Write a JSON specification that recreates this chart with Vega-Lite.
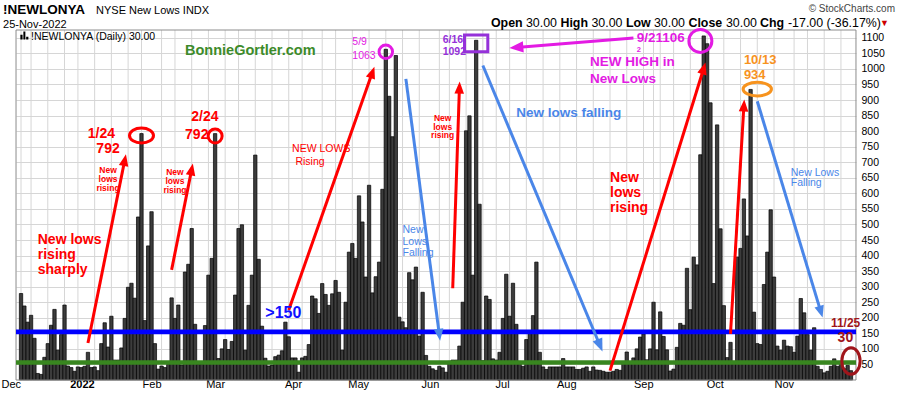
{
"$schema": "https://vega.github.io/schema/vega-lite/v6.json",
"width": 840,
"height": 350,
"autosize": {"type": "none"},
"padding": {"left": 16, "top": 30, "right": 44, "bottom": 16},
"background": "#ffffff",
"config": {"font": "Liberation Sans", "view": {"stroke": null}},
"datasets": {
"nl": [{"d":"2021-12-01","v":278},{"d":"2021-12-02","v":238},{"d":"2021-12-03","v":186},{"d":"2021-12-06","v":208},{"d":"2021-12-07","v":134},{"d":"2021-12-08","v":21},{"d":"2021-12-09","v":18},{"d":"2021-12-10","v":73},{"d":"2021-12-13","v":117},{"d":"2021-12-14","v":176},{"d":"2021-12-15","v":227},{"d":"2021-12-16","v":96},{"d":"2021-12-17","v":146},{"d":"2021-12-20","v":241},{"d":"2021-12-21","v":45},{"d":"2021-12-22","v":40},{"d":"2021-12-23","v":28},{"d":"2021-12-27","v":42},{"d":"2021-12-28","v":40},{"d":"2021-12-29","v":44},{"d":"2021-12-30","v":89},{"d":"2021-12-31","v":40},
{"d":"2022-01-03","v":42},{"d":"2022-01-04","v":30},{"d":"2022-01-05","v":117},{"d":"2022-01-06","v":184},{"d":"2022-01-07","v":106},{"d":"2022-01-10","v":205},{"d":"2022-01-11","v":64},{"d":"2022-01-12","v":64},{"d":"2022-01-13","v":103},{"d":"2022-01-14","v":198},{"d":"2022-01-18","v":298},{"d":"2022-01-19","v":311},{"d":"2022-01-20","v":263},{"d":"2022-01-21","v":524},{"d":"2022-01-24","v":792},{"d":"2022-01-25","v":191},{"d":"2022-01-26","v":431},{"d":"2022-01-27","v":541},{"d":"2022-01-28","v":117},{"d":"2022-01-31","v":35},
{"d":"2022-02-01","v":45},{"d":"2022-02-02","v":40},{"d":"2022-02-03","v":50},{"d":"2022-02-04","v":264},{"d":"2022-02-07","v":198},{"d":"2022-02-08","v":241},{"d":"2022-02-09","v":48},{"d":"2022-02-10","v":347},{"d":"2022-02-11","v":372},{"d":"2022-02-14","v":487},{"d":"2022-02-15","v":179},{"d":"2022-02-16","v":50},{"d":"2022-02-17","v":52},{"d":"2022-02-18","v":175},{"d":"2022-02-22","v":337},{"d":"2022-02-23","v":391},{"d":"2022-02-24","v":792},{"d":"2022-02-25","v":69},{"d":"2022-02-28","v":100},
{"d":"2022-03-01","v":130},{"d":"2022-03-02","v":98},{"d":"2022-03-03","v":124},{"d":"2022-03-04","v":273},{"d":"2022-03-07","v":487},{"d":"2022-03-08","v":499},{"d":"2022-03-09","v":96},{"d":"2022-03-10","v":240},{"d":"2022-03-11","v":337},{"d":"2022-03-14","v":723},{"d":"2022-03-15","v":388},{"d":"2022-03-16","v":173},{"d":"2022-03-17","v":70},{"d":"2022-03-18","v":45},{"d":"2022-03-21","v":48},{"d":"2022-03-22","v":75},{"d":"2022-03-23","v":80},{"d":"2022-03-24","v":94},{"d":"2022-03-25","v":186},{"d":"2022-03-28","v":139},{"d":"2022-03-29","v":71},{"d":"2022-03-30","v":71},{"d":"2022-03-31","v":25},
{"d":"2022-04-01","v":71},{"d":"2022-04-04","v":76},{"d":"2022-04-05","v":114},{"d":"2022-04-06","v":270},{"d":"2022-04-07","v":261},{"d":"2022-04-08","v":214},{"d":"2022-04-11","v":310},{"d":"2022-04-12","v":275},{"d":"2022-04-13","v":240},{"d":"2022-04-14","v":277},{"d":"2022-04-18","v":320},{"d":"2022-04-19","v":282},{"d":"2022-04-20","v":96},{"d":"2022-04-21","v":250},{"d":"2022-04-22","v":411},{"d":"2022-04-25","v":439},{"d":"2022-04-26","v":391},{"d":"2022-04-27","v":592},{"d":"2022-04-28","v":508},{"d":"2022-04-29","v":331},
{"d":"2022-05-02","v":626},{"d":"2022-05-03","v":280},{"d":"2022-05-04","v":332},{"d":"2022-05-05","v":379},{"d":"2022-05-06","v":613},{"d":"2022-05-09","v":1063},{"d":"2022-05-10","v":912},{"d":"2022-05-11","v":782},{"d":"2022-05-12","v":1043},{"d":"2022-05-13","v":202},{"d":"2022-05-16","v":187},{"d":"2022-05-17","v":168},{"d":"2022-05-18","v":345},{"d":"2022-05-19","v":322},{"d":"2022-05-20","v":363},{"d":"2022-05-23","v":141},{"d":"2022-05-24","v":282},{"d":"2022-05-25","v":79},{"d":"2022-05-26","v":44},{"d":"2022-05-27","v":36},{"d":"2022-05-31","v":31},
{"d":"2022-06-01","v":44},{"d":"2022-06-02","v":39},{"d":"2022-06-03","v":25},{"d":"2022-06-06","v":60},{"d":"2022-06-07","v":64},{"d":"2022-06-08","v":64},{"d":"2022-06-09","v":109},{"d":"2022-06-10","v":250},{"d":"2022-06-13","v":801},{"d":"2022-06-14","v":849},{"d":"2022-06-15","v":337},{"d":"2022-06-16","v":1092},{"d":"2022-06-17","v":565},{"d":"2022-06-21","v":62},{"d":"2022-06-22","v":270},{"d":"2022-06-23","v":259},{"d":"2022-06-24","v":68},{"d":"2022-06-27","v":64},{"d":"2022-06-28","v":89},{"d":"2022-06-29","v":198},{"d":"2022-06-30","v":340},
{"d":"2022-07-01","v":205},{"d":"2022-07-05","v":311},{"d":"2022-07-06","v":179},{"d":"2022-07-07","v":60},{"d":"2022-07-08","v":44},{"d":"2022-07-11","v":130},{"d":"2022-07-12","v":150},{"d":"2022-07-13","v":207},{"d":"2022-07-14","v":379},{"d":"2022-07-15","v":89},{"d":"2022-07-18","v":42},{"d":"2022-07-19","v":34},{"d":"2022-07-20","v":42},{"d":"2022-07-21","v":42},{"d":"2022-07-22","v":42},{"d":"2022-07-25","v":42},{"d":"2022-07-26","v":69},{"d":"2022-07-27","v":42},{"d":"2022-07-28","v":42},{"d":"2022-07-29","v":42},
{"d":"2022-08-01","v":34},{"d":"2022-08-02","v":34},{"d":"2022-08-03","v":38},{"d":"2022-08-04","v":42},{"d":"2022-08-05","v":28},{"d":"2022-08-08","v":42},{"d":"2022-08-09","v":32},{"d":"2022-08-10","v":31},{"d":"2022-08-11","v":28},{"d":"2022-08-12","v":25},{"d":"2022-08-15","v":25},{"d":"2022-08-16","v":28},{"d":"2022-08-17","v":34},{"d":"2022-08-18","v":31},{"d":"2022-08-19","v":58},{"d":"2022-08-22","v":90},{"d":"2022-08-23","v":58},{"d":"2022-08-24","v":71},{"d":"2022-08-25","v":100},{"d":"2022-08-26","v":138},{"d":"2022-08-29","v":148},{"d":"2022-08-30","v":65},{"d":"2022-08-31","v":100},
{"d":"2022-09-01","v":250},{"d":"2022-09-02","v":97},{"d":"2022-09-06","v":219},{"d":"2022-09-07","v":140},{"d":"2022-09-08","v":97},{"d":"2022-09-09","v":29},{"d":"2022-09-12","v":35},{"d":"2022-09-13","v":105},{"d":"2022-09-14","v":182},{"d":"2022-09-15","v":176},{"d":"2022-09-16","v":359},{"d":"2022-09-19","v":226},{"d":"2022-09-20","v":395},{"d":"2022-09-21","v":370},{"d":"2022-09-22","v":724},{"d":"2022-09-23","v":1106},{"d":"2022-09-26","v":1081},{"d":"2022-09-27","v":891},{"d":"2022-09-28","v":310},{"d":"2022-09-29","v":820},{"d":"2022-09-30","v":486},
{"d":"2022-10-03","v":239},{"d":"2022-10-04","v":72},{"d":"2022-10-05","v":121},{"d":"2022-10-06","v":60},{"d":"2022-10-07","v":395},{"d":"2022-10-10","v":423},{"d":"2022-10-11","v":582},{"d":"2022-10-12","v":463},{"d":"2022-10-13","v":934},{"d":"2022-10-14","v":218},{"d":"2022-10-17","v":117},{"d":"2022-10-18","v":114},{"d":"2022-10-19","v":307},{"d":"2022-10-20","v":411},{"d":"2022-10-21","v":547},{"d":"2022-10-24","v":331},{"d":"2022-10-25","v":109},{"d":"2022-10-26","v":96},{"d":"2022-10-27","v":128},{"d":"2022-10-28","v":109},{"d":"2022-10-31","v":107},
{"d":"2022-11-01","v":89},{"d":"2022-11-02","v":141},{"d":"2022-11-03","v":262},{"d":"2022-11-04","v":216},{"d":"2022-11-07","v":146},{"d":"2022-11-08","v":96},{"d":"2022-11-09","v":168},{"d":"2022-11-10","v":44},{"d":"2022-11-11","v":34},{"d":"2022-11-14","v":23},{"d":"2022-11-15","v":28},{"d":"2022-11-16","v":44},{"d":"2022-11-17","v":68},{"d":"2022-11-18","v":44},{"d":"2022-11-21","v":50},{"d":"2022-11-22","v":36},{"d":"2022-11-23","v":47},{"d":"2022-11-25","v":30}],
"weeks": [{"d":"2021-12-01"},{"d":"2021-12-06"},{"d":"2021-12-13"},{"d":"2021-12-20"},{"d":"2021-12-27"},{"d":"2022-01-03"},{"d":"2022-01-10"},{"d":"2022-01-18"},{"d":"2022-01-24"},{"d":"2022-02-01"},{"d":"2022-02-07"},{"d":"2022-02-14"},{"d":"2022-02-22"},{"d":"2022-03-01"},{"d":"2022-03-07"},{"d":"2022-03-14"},{"d":"2022-03-21"},{"d":"2022-03-28"},{"d":"2022-04-01"},{"d":"2022-04-11"},{"d":"2022-04-18"},{"d":"2022-04-25"},{"d":"2022-05-02"},{"d":"2022-05-09"},{"d":"2022-05-16"},{"d":"2022-05-23"},{"d":"2022-06-01"},{"d":"2022-06-06"},{"d":"2022-06-13"},{"d":"2022-06-21"},{"d":"2022-06-27"},{"d":"2022-07-01"},{"d":"2022-07-11"},{"d":"2022-07-18"},{"d":"2022-07-25"},{"d":"2022-08-01"},{"d":"2022-08-08"},{"d":"2022-08-15"},{"d":"2022-08-22"},{"d":"2022-08-29"},{"d":"2022-09-01"},{"d":"2022-09-06"},{"d":"2022-09-12"},{"d":"2022-09-19"},{"d":"2022-09-26"},{"d":"2022-10-03"},{"d":"2022-10-10"},{"d":"2022-10-17"},{"d":"2022-10-24"},{"d":"2022-11-01"},{"d":"2022-11-07"},{"d":"2022-11-14"},{"d":"2022-11-21"}]
},
"layer": [
{"data": {"name": "weeks"}, "mark": {"type": "rule", "color": "#d6d6d6", "strokeWidth": 1},
 "encoding": {"x": {"field": "d", "type": "ordinal"}}},
{"data": {"name": "nl"}, "mark": {"type": "bar", "fill": "#3c3c3c", "stroke": "#000000", "strokeWidth": 0.7},
 "encoding": {
  "x": {"field": "d", "type": "ordinal", "scale": {"type": "band", "paddingInner": 0, "paddingOuter": 1},
   "axis": {"title": null, "grid": false, "ticks": false, "domain": false, "labelAngle": 0, "labelPadding": 4, "labelFontSize": 11, "labelColor": "#000000", "labelOverlap": false, "labelBound": false, "labelFlush": false,
    "values": ["2021-12-01","2022-01-03","2022-02-01","2022-03-01","2022-04-01","2022-05-02","2022-06-01","2022-07-01","2022-08-01","2022-09-01","2022-10-03","2022-11-01"],
    "labelExpr": "datum.value == '2022-01-03' ? '2022' : ['Jan','Feb','Mar','Apr','May','Jun','Jul','Aug','Sep','Oct','Nov','Dec'][toNumber(substring(datum.value, 5, 7)) - 1]",
    "labelFontWeight": {"condition": {"test": "datum.value == '2022-01-03'", "value": "bold"}, "value": "normal"}}},
  "y": {"field": "v", "type": "quantitative", "scale": {"domain": [0, 1125], "nice": false},
   "axis": {"orient": "right", "title": null, "grid": true, "gridColor": "#d6d6d6", "gridWidth": 1, "ticks": false, "domain": false, "labelPadding": 5, "labelFontSize": 10.5, "labelColor": "#000000", "labelOverlap": false, "format": "d", "tickCount": 30,
    "values": [50,100,150,200,250,300,350,400,450,500,550,600,650,700,750,800,850,900,950,1000,1050,1100]}}
 }},
{"data": {"values": [{}]}, "mark": {"type": "rule", "color": "#8c8c8c", "strokeWidth": 1},
 "encoding": {"y": {"datum": 1125, "type": "quantitative"}}},
{"data": {"values": [{}]}, "mark": {"type": "rule", "color": "#8c8c8c", "strokeWidth": 1},
 "encoding": {"y": {"datum": 0, "type": "quantitative"}}},
{"data": {"values": [{}]}, "mark": {"type": "rule", "color": "#8c8c8c", "strokeWidth": 1, "xOffset": -5},
 "encoding": {"x": {"datum": "2021-12-01", "type": "ordinal"}}},
{"data": {"values": [{}]}, "mark": {"type": "rule", "color": "#8c8c8c", "strokeWidth": 1, "xOffset": 5},
 "encoding": {"x": {"datum": "2022-11-25", "type": "ordinal"}}},
{"data": {"values": [{}]}, "mark": {"type": "rule", "color": "#0000ff", "strokeWidth": 4.7},
 "encoding": {"y": {"datum": 155, "type": "quantitative"}}},
{"data": {"values": [{}]}, "mark": {"type": "rule", "color": "#38861f", "strokeWidth": 4.5},
 "encoding": {"y": {"datum": 56, "type": "quantitative"}}},
{"data": {"values": [
  {"a": 1, "d": "2021-12-30", "v": 119}, {"a": 1, "d": "2022-01-14", "v": 707},
  {"a": 2, "d": "2022-02-04", "v": 354}, {"a": 2, "d": "2022-02-14", "v": 677},
  {"a": 3, "d": "2022-03-28", "v": 225}, {"a": 3, "d": "2022-05-03", "v": 989},
  {"a": 4, "d": "2022-06-07", "v": 295}, {"a": 4, "d": "2022-06-09", "v": 940},
  {"a": 5, "d": "2022-08-15", "v": 30}, {"a": 5, "d": "2022-09-23", "v": 1002},
  {"a": 6, "d": "2022-10-05", "v": 148}, {"a": 6, "d": "2022-10-11", "v": 882}]},
 "mark": {"type": "line", "color": "#ff0000", "strokeWidth": 3},
 "encoding": {"x": {"field": "d", "type": "ordinal"}, "y": {"field": "v", "type": "quantitative"}, "detail": {"field": "a", "type": "nominal"}}},
{"data": {"values": [
  {"a": 1, "d": "2022-05-17", "v": 968}, {"a": 1, "d": "2022-06-01", "v": 145},
  {"a": 2, "d": "2022-06-21", "v": 1011}, {"a": 2, "d": "2022-08-10", "v": 111},
  {"a": 3, "d": "2022-10-17", "v": 896}, {"a": 3, "d": "2022-11-11", "v": 219}]},
 "mark": {"type": "line", "color": "#4a86e8", "strokeWidth": 3},
 "encoding": {"x": {"field": "d", "type": "ordinal"}, "y": {"field": "v", "type": "quantitative"}, "detail": {"field": "a", "type": "nominal"}}},
{"data": {"values": [{"a": 1, "d": "2022-08-24", "v": 1099}, {"a": 1, "d": "2022-07-06", "v": 1069}]},
 "mark": {"type": "line", "color": "#e31be3", "strokeWidth": 3},
 "encoding": {"x": {"field": "d", "type": "ordinal"}, "y": {"field": "v", "type": "quantitative"}, "detail": {"field": "a", "type": "nominal"}}},
{"data": {"values": [{}]}, "mark": {"type": "point", "shape": "M0,-1L0.8,1L-0.8,1Z", "filled": true, "color": "#ff0000", "opacity": 1, "strokeWidth": 0, "size": 144, "angle": 11.4},
 "encoding": {"x": {"datum": "2022-01-14", "type": "ordinal"}, "y": {"datum": 707, "type": "quantitative"}}},
{"data": {"values": [{}]}, "mark": {"type": "point", "shape": "M0,-1L0.8,1L-0.8,1Z", "filled": true, "color": "#ff0000", "opacity": 1, "strokeWidth": 0, "size": 144, "angle": 11.3},
 "encoding": {"x": {"datum": "2022-02-14", "type": "ordinal"}, "y": {"datum": 677, "type": "quantitative"}}},
{"data": {"values": [{}]}, "mark": {"type": "point", "shape": "M0,-1L0.8,1L-0.8,1Z", "filled": true, "color": "#ff0000", "opacity": 1, "strokeWidth": 0, "size": 144, "angle": 19.4},
 "encoding": {"x": {"datum": "2022-05-03", "type": "ordinal"}, "y": {"datum": 989, "type": "quantitative"}}},
{"data": {"values": [{}]}, "mark": {"type": "point", "shape": "M0,-1L0.8,1L-0.8,1Z", "filled": true, "color": "#ff0000", "opacity": 1, "strokeWidth": 0, "size": 144, "angle": 1.9},
 "encoding": {"x": {"datum": "2022-06-09", "type": "ordinal"}, "y": {"datum": 940, "type": "quantitative"}}},
{"data": {"values": [{}]}, "mark": {"type": "point", "shape": "M0,-1L0.8,1L-0.8,1Z", "filled": true, "color": "#ff0000", "opacity": 1, "strokeWidth": 0, "size": 144, "angle": 17.2},
 "encoding": {"x": {"datum": "2022-09-23", "type": "ordinal"}, "y": {"datum": 1002, "type": "quantitative"}}},
{"data": {"values": [{}]}, "mark": {"type": "point", "shape": "M0,-1L0.8,1L-0.8,1Z", "filled": true, "color": "#ff0000", "opacity": 1, "strokeWidth": 0, "size": 144, "angle": 3.4},
 "encoding": {"x": {"datum": "2022-10-11", "type": "ordinal"}, "y": {"datum": 882, "type": "quantitative"}}},
{"data": {"values": [{}]}, "mark": {"type": "point", "shape": "M0,-1L0.8,1L-0.8,1Z", "filled": true, "color": "#4a86e8", "opacity": 1, "strokeWidth": 0, "size": 144, "angle": 172.6},
 "encoding": {"x": {"datum": "2022-06-01", "type": "ordinal"}, "y": {"datum": 145, "type": "quantitative"}}},
{"data": {"values": [{}]}, "mark": {"type": "point", "shape": "M0,-1L0.8,1L-0.8,1Z", "filled": true, "color": "#4a86e8", "opacity": 1, "strokeWidth": 0, "size": 169, "angle": 157.3},
 "encoding": {"x": {"datum": "2022-08-10", "type": "ordinal"}, "y": {"datum": 111, "type": "quantitative"}}},
{"data": {"values": [{}]}, "mark": {"type": "point", "shape": "M0,-1L0.8,1L-0.8,1Z", "filled": true, "color": "#4a86e8", "opacity": 1, "strokeWidth": 0, "size": 144, "angle": 163.2},
 "encoding": {"x": {"datum": "2022-11-11", "type": "ordinal"}, "y": {"datum": 219, "type": "quantitative"}}},
{"data": {"values": [{}]}, "mark": {"type": "point", "shape": "M0,-1L0.8,1L-0.8,1Z", "filled": true, "color": "#e31be3", "opacity": 1, "strokeWidth": 0, "size": 196, "angle": 265.4},
 "encoding": {"x": {"datum": "2022-07-06", "type": "ordinal"}, "y": {"datum": 1069, "type": "quantitative"}}},
{"data": {"values": [{}]}, "mark": {"type": "point", "shape": "M-1,0A1,0.625,0,1,1,1,0A1,0.625,0,1,1,-1,0Z", "filled": false, "color": "#ff0000", "stroke": "#ff0000", "opacity": 1, "strokeWidth": 3, "size": 576},
 "encoding": {"x": {"datum": "2022-01-24", "type": "ordinal"}, "y": {"datum": 786, "type": "quantitative"}}},
{"data": {"values": [{}]}, "mark": {"type": "point", "shape": "circle", "filled": false, "color": "#ff0000", "stroke": "#ff0000", "opacity": 1, "strokeWidth": 3, "size": 196},
 "encoding": {"x": {"datum": "2022-02-24", "type": "ordinal"}, "y": {"datum": 784, "type": "quantitative"}}},
{"data": {"values": [{}]}, "mark": {"type": "point", "shape": "circle", "filled": false, "color": "#e31be3", "stroke": "#e31be3", "opacity": 1, "strokeWidth": 3, "size": 182},
 "encoding": {"x": {"datum": "2022-05-09", "type": "ordinal"}, "y": {"datum": 1055, "type": "quantitative"}}},
{"data": {"values": [{}]}, "mark": {"type": "point", "shape": "M-1,-0.717H1V0.717H-1Z", "filled": false, "color": "#9531d9", "stroke": "#9531d9", "opacity": 1, "strokeWidth": 3, "size": 543},
 "encoding": {"x": {"datum": "2022-06-16", "type": "ordinal"}, "y": {"datum": 1082, "type": "quantitative"}}},
{"data": {"values": [{}]}, "mark": {"type": "point", "shape": "circle", "filled": false, "color": "#e31be3", "stroke": "#e31be3", "opacity": 1, "strokeWidth": 3, "size": 529},
 "encoding": {"x": {"datum": "2022-09-22", "type": "ordinal"}, "y": {"datum": 1090, "type": "quantitative"}}},
{"data": {"values": [{}]}, "mark": {"type": "point", "shape": "M-1,0A1,0.48,0,1,1,1,0A1,0.48,0,1,1,-1,0Z", "filled": false, "color": "#f7931e", "stroke": "#f7931e", "opacity": 1, "strokeWidth": 3, "size": 807},
 "encoding": {"x": {"datum": "2022-10-17", "type": "ordinal"}, "y": {"datum": 935, "type": "quantitative"}}},
{"data": {"values": [{}]}, "mark": {"type": "point", "shape": "M0,-1A0.685,1,0,1,1,0,1A0.685,1,0,1,1,0,-1Z", "filled": false, "color": "#a0151b", "stroke": "#a0151b", "opacity": 1, "strokeWidth": 3, "size": 713},
 "encoding": {"x": {"datum": "2022-11-25", "type": "ordinal"}, "y": {"datum": 61, "type": "quantitative"}}},
{"data": {"values": [
  {"d": "2021-12-08", "v": 437, "t": "New lows"}, {"d": "2021-12-08", "v": 389, "t": "rising"}, {"d": "2021-12-08", "v": 341, "t": "sharply"},
  {"d": "2022-08-15", "v": 637, "t": "New"}, {"d": "2022-08-15", "v": 587, "t": "lows"}, {"d": "2022-08-15", "v": 539, "t": "rising"}]},
 "mark": {"type": "text", "align": "left", "baseline": "alphabetic", "fontSize": 14, "fontWeight": "bold", "color": "#ff0000"},
 "encoding": {"x": {"field": "d", "type": "ordinal"}, "y": {"field": "v", "type": "quantitative"}, "text": {"field": "t"}}},
{"data": {"values": [{"d": "2022-01-05", "v": 777, "t": "1/24"}, {"d": "2022-01-07", "v": 731, "t": "792"}]},
 "mark": {"type": "text", "align": "center", "baseline": "alphabetic", "fontSize": 14, "fontWeight": "bold", "color": "#ff0000"},
 "encoding": {"x": {"field": "d", "type": "ordinal"}, "y": {"field": "v", "type": "quantitative"}, "text": {"field": "t"}}},
{"data": {"values": [{"d": "2022-02-25", "v": 833, "t": "2/24"}, {"d": "2022-02-22", "v": 774, "t": "792"}]},
 "mark": {"type": "text", "align": "right", "baseline": "alphabetic", "fontSize": 14, "fontWeight": "bold", "color": "#ff0000"},
 "encoding": {"x": {"field": "d", "type": "ordinal"}, "y": {"field": "v", "type": "quantitative"}, "text": {"field": "t"}}},
{"data": {"values": [
  {"d": "2022-01-07", "v": 665, "t": "New"}, {"d": "2022-01-07", "v": 636, "t": "lows"}, {"d": "2022-01-07", "v": 606, "t": "rising"},
  {"d": "2022-02-07", "v": 660, "t": "New"}, {"d": "2022-02-07", "v": 631, "t": "lows"}, {"d": "2022-02-07", "v": 602, "t": "rising"},
  {"d": "2022-06-02", "v": 832, "t": "New"}, {"d": "2022-06-02", "v": 805, "t": "lows"}, {"d": "2022-06-02", "v": 778, "t": "rising"}]},
 "mark": {"type": "text", "align": "center", "baseline": "alphabetic", "fontSize": 8.5, "fontWeight": "bold", "color": "#ff0000"},
 "encoding": {"x": {"field": "d", "type": "ordinal"}, "y": {"field": "v", "type": "quantitative"}, "text": {"field": "t"}}},
{"data": {"values": [{"d": "2022-03-29", "v": 734, "t": "NEW LOWS"}, {"d": "2022-03-30", "v": 691, "t": "Rising"}]},
 "mark": {"type": "text", "align": "left", "baseline": "alphabetic", "fontSize": 10.5, "color": "#ff0000"},
 "encoding": {"x": {"field": "d", "type": "ordinal"}, "y": {"field": "v", "type": "quantitative"}, "text": {"field": "t"}}},
{"data": {"values": [{"d": "2022-03-17", "v": 200, "t": ">150"}]},
 "mark": {"type": "text", "align": "left", "baseline": "alphabetic", "fontSize": 16, "fontWeight": "bold", "color": "#1010ff"},
 "encoding": {"x": {"field": "d", "type": "ordinal"}, "y": {"field": "v", "type": "quantitative"}, "text": {"field": "t"}}},
{"data": {"values": [{"d": "2022-02-10", "v": 1045, "t": "BonnieGortler.com"}]},
 "mark": {"type": "text", "align": "left", "baseline": "alphabetic", "fontSize": 14.5, "fontWeight": "bold", "color": "#3d8b2a"},
 "encoding": {"x": {"field": "d", "type": "ordinal"}, "y": {"field": "v", "type": "quantitative"}, "text": {"field": "t"}}},
{"data": {"values": [{"d": "2022-04-25", "v": 1077, "t": "5/9"}, {"d": "2022-04-25", "v": 1032, "t": "1063"}]},
 "mark": {"type": "text", "align": "left", "baseline": "alphabetic", "fontSize": 10.5, "color": "#e31be3"},
 "encoding": {"x": {"field": "d", "type": "ordinal"}, "y": {"field": "v", "type": "quantitative"}, "text": {"field": "t"}}},
{"data": {"values": [
  {"d": "2022-05-16", "v": 472, "t": "New"}, {"d": "2022-05-16", "v": 433, "t": "Lows"}, {"d": "2022-05-16", "v": 399, "t": "Falling"},
  {"d": "2022-10-31", "v": 657, "t": "New Lows"}, {"d": "2022-10-31", "v": 622, "t": "Falling"}]},
 "mark": {"type": "text", "align": "left", "baseline": "alphabetic", "fontSize": 10.5, "color": "#4a86e8"},
 "encoding": {"x": {"field": "d", "type": "ordinal"}, "y": {"field": "v", "type": "quantitative"}, "text": {"field": "t"}}},
{"data": {"values": [{"d": "2022-06-02", "v": 1082, "t": "6/16"}, {"d": "2022-06-02", "v": 1045, "t": "1092"}]},
 "mark": {"type": "text", "align": "left", "baseline": "alphabetic", "fontSize": 10.5, "fontWeight": "bold", "color": "#9531d9"},
 "encoding": {"x": {"field": "d", "type": "ordinal"}, "y": {"field": "v", "type": "quantitative"}, "text": {"field": "t"}}},
{"data": {"values": [{"d": "2022-08-25", "v": 1085, "t": "9/21106"}]},
 "mark": {"type": "text", "align": "left", "baseline": "alphabetic", "fontSize": 13.5, "fontWeight": "bold", "color": "#e31be3"},
 "encoding": {"x": {"field": "d", "type": "ordinal"}, "y": {"field": "v", "type": "quantitative"}, "text": {"field": "t"}}},
{"data": {"values": [{"d": "2022-08-25", "v": 1053, "t": "2"}]},
 "mark": {"type": "text", "align": "left", "baseline": "alphabetic", "fontSize": 7.5, "fontWeight": "bold", "color": "#e31be3"},
 "encoding": {"x": {"field": "d", "type": "ordinal"}, "y": {"field": "v", "type": "quantitative"}, "text": {"field": "t"}}},
{"data": {"values": [{"d": "2022-08-05", "v": 1008, "t": "NEW HIGH in"}, {"d": "2022-08-05", "v": 956, "t": "New Lows"}]},
 "mark": {"type": "text", "align": "left", "baseline": "alphabetic", "fontSize": 13.5, "fontWeight": "bold", "color": "#e31be3"},
 "encoding": {"x": {"field": "d", "type": "ordinal"}, "y": {"field": "v", "type": "quantitative"}, "text": {"field": "t"}}},
{"data": {"values": [{"d": "2022-07-06", "v": 846, "t": "New lows falling"}]},
 "mark": {"type": "text", "align": "left", "baseline": "alphabetic", "fontSize": 13.5, "fontWeight": "bold", "color": "#4a86e8"},
 "encoding": {"x": {"field": "d", "type": "ordinal"}, "y": {"field": "v", "type": "quantitative"}, "text": {"field": "t"}}},
{"data": {"values": [{"d": "2022-10-11", "v": 1015, "t": "10/13"}, {"d": "2022-10-11", "v": 968, "t": "934"}]},
 "mark": {"type": "text", "align": "left", "baseline": "alphabetic", "fontSize": 13, "fontWeight": "bold", "color": "#f7931e"},
 "encoding": {"x": {"field": "d", "type": "ordinal"}, "y": {"field": "v", "type": "quantitative"}, "text": {"field": "t"}}},
{"data": {"values": [{"d": "2022-11-16", "v": 171, "t": "11/25"}]},
 "mark": {"type": "text", "align": "left", "baseline": "alphabetic", "fontSize": 12, "fontWeight": "bold", "color": "#a0151b"},
 "encoding": {"x": {"field": "d", "type": "ordinal"}, "y": {"field": "v", "type": "quantitative"}, "text": {"field": "t"}}},
{"data": {"values": [{"d": "2022-11-18", "v": 123, "t": "30"}]},
 "mark": {"type": "text", "align": "left", "baseline": "alphabetic", "fontSize": 14, "fontWeight": "bold", "color": "#a0151b"},
 "encoding": {"x": {"field": "d", "type": "ordinal"}, "y": {"field": "v", "type": "quantitative"}, "text": {"field": "t"}}},
{"data": {"values": [{"d": "2021-12-06", "v": 1093, "t": "!NEWLONYA (Daily) 30.00"}]},
 "mark": {"type": "text", "align": "left", "baseline": "alphabetic", "fontSize": 10.5, "color": "#000000"},
 "encoding": {"x": {"field": "d", "type": "ordinal"}, "y": {"field": "v", "type": "quantitative"}, "text": {"field": "t"}}},
{"data": {"values": [{}]}, "mark": {"type": "point", "shape": "M-1,1V-0.2H-0.45V1ZM-0.25,1V-1H0.25V1ZM0.45,1V0.3H1V1Z", "filled": true, "color": "#000000", "opacity": 1, "strokeWidth": 0, "size": 64},
 "encoding": {"x": {"datum": "2021-12-02", "type": "ordinal"}, "y": {"datum": 1107, "type": "quantitative"}}},
{"data": {"values": [{}]}, "mark": {"type": "text", "text": "!NEWLONYA", "align": "left", "baseline": "alphabetic", "fontSize": 13.5, "fontWeight": "bold", "color": "#000000", "dx": -18},
 "encoding": {"x": {"datum": "2021-12-01", "type": "ordinal"}, "y": {"datum": 1175, "type": "quantitative"}}},
{"data": {"values": [{}]}, "mark": {"type": "text", "text": "NYSE New Lows INDX", "align": "left", "baseline": "alphabetic", "fontSize": 11, "color": "#000000", "dx": 75},
 "encoding": {"x": {"datum": "2021-12-01", "type": "ordinal"}, "y": {"datum": 1175, "type": "quantitative"}}},
{"data": {"values": [{}]}, "mark": {"type": "text", "text": "25-Nov-2022", "align": "left", "baseline": "alphabetic", "fontSize": 11, "color": "#000000", "dx": -18},
 "encoding": {"x": {"datum": "2021-12-01", "type": "ordinal"}, "y": {"datum": 1131, "type": "quantitative"}}},
{"data": {"values": [{}]}, "mark": {"type": "text", "text": "© StockCharts.com", "align": "right", "baseline": "alphabetic", "fontSize": 10, "color": "#444444", "dx": 44},
 "encoding": {"x": {"datum": "2022-11-25", "type": "ordinal"}, "y": {"datum": 1183, "type": "quantitative"}}},
{"data": {"values": [{}]}, "mark": {"type": "text", "text": "Open", "align": "left", "baseline": "alphabetic", "fontSize": 12.4, "fontWeight": "bold", "color": "#000000", "dx": -360},
 "encoding": {"x": {"datum": "2022-11-25", "type": "ordinal"}, "y": {"datum": 1136, "type": "quantitative"}}},
{"data": {"values": [{}]}, "mark": {"type": "text", "text": "30.00", "align": "left", "baseline": "alphabetic", "fontSize": 12.4, "color": "#000000", "dx": -325},
 "encoding": {"x": {"datum": "2022-11-25", "type": "ordinal"}, "y": {"datum": 1136, "type": "quantitative"}}},
{"data": {"values": [{}]}, "mark": {"type": "text", "text": "High", "align": "left", "baseline": "alphabetic", "fontSize": 12.4, "fontWeight": "bold", "color": "#000000", "dx": -290.5},
 "encoding": {"x": {"datum": "2022-11-25", "type": "ordinal"}, "y": {"datum": 1136, "type": "quantitative"}}},
{"data": {"values": [{}]}, "mark": {"type": "text", "text": "30.00", "align": "left", "baseline": "alphabetic", "fontSize": 12.4, "color": "#000000", "dx": -259.5},
 "encoding": {"x": {"datum": "2022-11-25", "type": "ordinal"}, "y": {"datum": 1136, "type": "quantitative"}}},
{"data": {"values": [{}]}, "mark": {"type": "text", "text": "Low", "align": "left", "baseline": "alphabetic", "fontSize": 12.4, "fontWeight": "bold", "color": "#000000", "dx": -225},
 "encoding": {"x": {"datum": "2022-11-25", "type": "ordinal"}, "y": {"datum": 1136, "type": "quantitative"}}},
{"data": {"values": [{}]}, "mark": {"type": "text", "text": "30.00", "align": "left", "baseline": "alphabetic", "fontSize": 12.4, "color": "#000000", "dx": -197},
 "encoding": {"x": {"datum": "2022-11-25", "type": "ordinal"}, "y": {"datum": 1136, "type": "quantitative"}}},
{"data": {"values": [{}]}, "mark": {"type": "text", "text": "Close", "align": "left", "baseline": "alphabetic", "fontSize": 12.4, "fontWeight": "bold", "color": "#000000", "dx": -162.5},
 "encoding": {"x": {"datum": "2022-11-25", "type": "ordinal"}, "y": {"datum": 1136, "type": "quantitative"}}},
{"data": {"values": [{}]}, "mark": {"type": "text", "text": "30.00", "align": "left", "baseline": "alphabetic", "fontSize": 12.4, "color": "#000000", "dx": -125},
 "encoding": {"x": {"datum": "2022-11-25", "type": "ordinal"}, "y": {"datum": 1136, "type": "quantitative"}}},
{"data": {"values": [{}]}, "mark": {"type": "text", "text": "Chg", "align": "left", "baseline": "alphabetic", "fontSize": 12.4, "fontWeight": "bold", "color": "#000000", "dx": -91},
 "encoding": {"x": {"datum": "2022-11-25", "type": "ordinal"}, "y": {"datum": 1136, "type": "quantitative"}}},
{"data": {"values": [{}]}, "mark": {"type": "text", "text": "-17.00 (-36.17%)", "align": "left", "baseline": "alphabetic", "fontSize": 12.4, "color": "#000000", "dx": -63},
 "encoding": {"x": {"datum": "2022-11-25", "type": "ordinal"}, "y": {"datum": 1136, "type": "quantitative"}}},
{"data": {"values": [{}]}, "mark": {"type": "text", "text": "▼", "align": "left", "baseline": "alphabetic", "fontSize": 9, "color": "#cc0000", "dx": 29},
 "encoding": {"x": {"datum": "2022-11-25", "type": "ordinal"}, "y": {"datum": 1138, "type": "quantitative"}}}
]
}
